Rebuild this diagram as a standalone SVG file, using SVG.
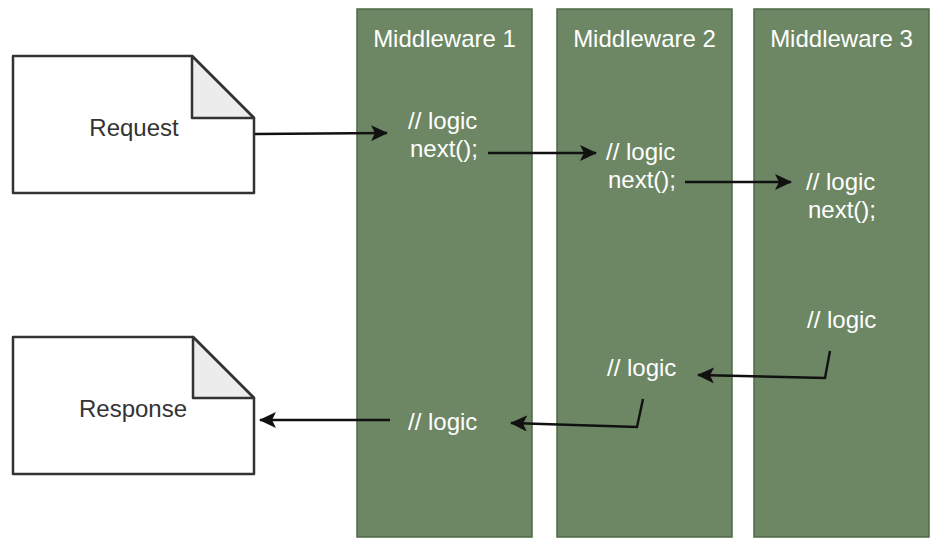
<svg xmlns="http://www.w3.org/2000/svg" width="945" height="549" viewBox="0 0 945 549">
<defs>
<style>
.col{fill:#6d8764;stroke:#4e6a45;stroke-width:1.5}
.doc{fill:#ffffff;stroke:#333333;stroke-width:2.5;stroke-linejoin:round}
.fold{fill:#ececec;stroke:#333333;stroke-width:2.5;stroke-linejoin:round}
.title{font-family:"Liberation Sans",Arial,sans-serif;font-size:24px;fill:#ffffff;text-anchor:middle}
.code{font-family:"Liberation Sans",Arial,sans-serif;font-size:24px;fill:#ffffff}
.label{font-family:"Liberation Sans",Arial,sans-serif;font-size:24px;fill:#333333;text-anchor:middle}
.conn{fill:none;stroke:#111111;stroke-width:2.4;marker-end:url(#arrow)}
</style>
<marker id="arrow" viewBox="0 0 17 16" refX="16" refY="8" markerWidth="17" markerHeight="16" markerUnits="userSpaceOnUse" orient="auto">
<path d="M0,0 L17,8 L0,16 L4,8 Z" fill="#111111"/>
</marker>
</defs>
<rect width="945" height="549" fill="#ffffff"/>
<g id="middleware1">
<rect class="col" x="357" y="9" width="175" height="528"/>
<text class="title" x="444.5" y="47">Middleware 1</text>
<text class="code" x="408" y="129">// logic</text>
<text class="code" x="410" y="157">next();</text>
<text class="code" x="408" y="430">// logic</text>
</g>
<g id="middleware2">
<rect class="col" x="557" y="9" width="175" height="528"/>
<text class="title" x="644.5" y="47">Middleware 2</text>
<text class="code" x="606" y="160">// logic</text>
<text class="code" x="608" y="188">next();</text>
<text class="code" x="607" y="376">// logic</text>
</g>
<g id="middleware3">
<rect class="col" x="754" y="9" width="175" height="528"/>
<text class="title" x="841.5" y="47">Middleware 3</text>
<text class="code" x="806" y="190">// logic</text>
<text class="code" x="808" y="218">next();</text>
<text class="code" x="807" y="328">// logic</text>
</g>
<g id="request">
<path class="doc" d="M13,56 L192,56 L254,118 L254,193 L13,193 Z"/>
<path class="fold" d="M192,56 L192,118 L254,118 Z"/>
<text class="label" x="134" y="136">Request</text>
</g>
<g id="response">
<path class="doc" d="M13,337 L193,337 L254,398 L254,474 L13,474 Z"/>
<path class="fold" d="M193,337 L193,398 L254,398 Z"/>
<text class="label" x="133" y="417">Response</text>
</g>
<g id="connectors">
<path class="conn" d="M255,134 L387,133"/>
<path class="conn" d="M488,153 L596,153"/>
<path class="conn" d="M685,182 L791,182"/>
<path class="conn" d="M830,351 L825,378 L698,375"/>
<path class="conn" d="M643,399 L637,427 L511,423"/>
<path class="conn" d="M390,420 L260,420"/>
</g>
</svg>
